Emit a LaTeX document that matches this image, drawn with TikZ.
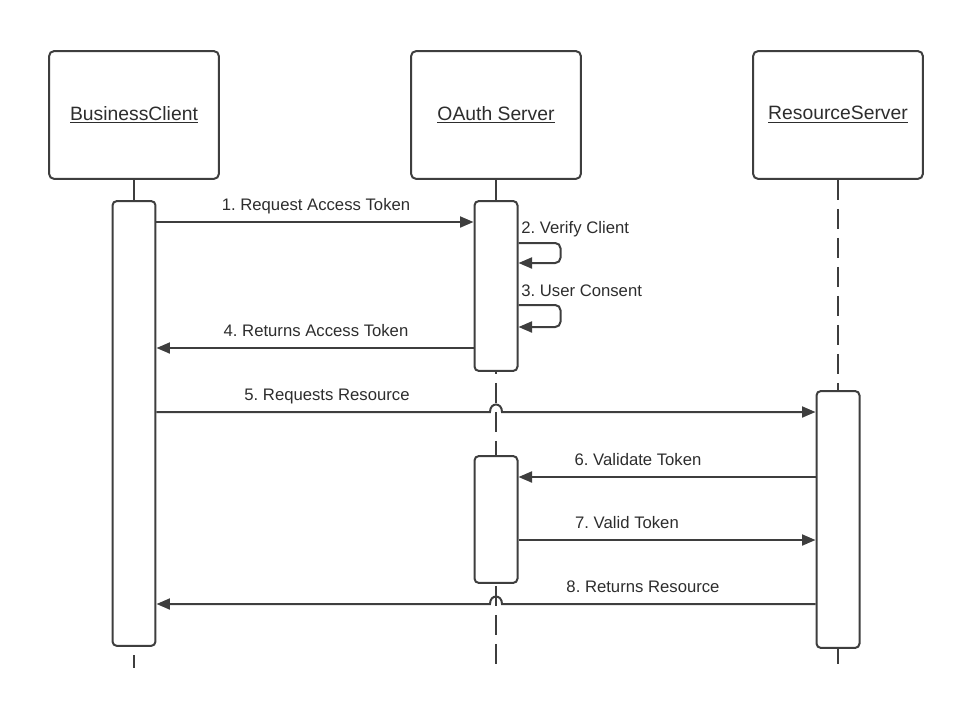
\documentclass[tikz,border=0pt]{standalone}
\usepackage{fontspec}
\setmainfont{Liberation Sans}
\usepackage{tikz}
\usetikzlibrary{arrows.meta, calc}
\definecolor{sqInk}{RGB}{62,62,62}
\definecolor{sqText}{RGB}{45,45,45}
\frenchspacing

\begin{document}
\begin{tikzpicture}[x=0.02cm,y=-0.02cm,
  head/.style={draw=sqInk,line width=0.04cm,rounded corners=3pt,fill=white,
               minimum width=3.4cm,minimum height=2.56cm,anchor=north,
               font=\fontsize{11}{13}\selectfont,text=sqText},
  bar/.style={draw=sqInk,line width=0.04cm,rounded corners=2.5pt,fill=white,
              minimum width=0.86cm,anchor=north,inner sep=0pt},
  life/.style={draw=sqInk,line width=0.04cm,dash pattern=on 0.4cm off 0.18cm},
  msg/.style={draw=sqInk,line width=0.04cm,
              -{Triangle[length=0.27cm,width=0.22cm]}},
  lbl/.style={font=\fontsize{9.5}{11}\selectfont,text=sqText,
              inner sep=0pt,anchor=base}]
\useasboundingbox (0,0) rectangle (956,707);

% ===== Heads =====
\node[head] (bc) at (134,50) {\underline{BusinessClient}};
\node[head] (oa) at (496,50) {\underline{OAuth Server}};
\node[head] (rs) at (838,50) {\underline{ResourceServer}};

% ===== Lifelines =====
\draw[life] (bc.south) -- (bc.south |- 0,640);
\draw[life] (bc.south |- 0,655) -- (bc.south |- 0,668);
\draw[life] (oa.south) -- (oa.south |- 0,668);
\draw[life] (rs.south) -- (rs.south |- 0,668);

% ===== Activation bars =====
\node[bar,minimum height=8.9cm] (bcA) at (134,200) {};
\node[bar,minimum height=3.4cm] (oaA) at (496,200) {};
\node[bar,minimum height=2.54cm] (oaB) at (496,455) {};
\node[bar,minimum height=5.14cm] (rsA) at (838,390) {};

% ===== Token request =====
\draw[msg] (bcA.east |- 0,222) -- (oaA.west |- 0,222);
\node[lbl] (m1) at (316,210) {1. Request Access Token};

\draw[msg,rounded corners=3pt] (oaA.east |- 0,243) -- ++(42,0) -- ++(0,20)
  -- (oaA.east |- 0,263);
\node[lbl,anchor=base west] (m2) at (521,233) {2. Verify Client};

\draw[msg,rounded corners=3pt] (oaA.east |- 0,305) -- ++(42,0) -- ++(0,22)
  -- (oaA.east |- 0,327);
\node[lbl,anchor=base west] (m3) at (521,296) {3. User Consent};

\draw[msg] (oaA.west |- 0,348) -- (bcA.east |- 0,348);
\node[lbl] (m4) at (316,336) {4. Returns Access Token};

% ===== Resource request =====
\coordinate (x5) at (oaA.south |- 0,412);
\draw[msg] (bcA.east |- 0,412) -- ($(x5)+(-6,0)$)
  .. controls +(0,-10) and +(0,-10) .. ($(x5)+(6,0)$) -- (rsA.west |- 0,412);
\node[lbl] (m5) at (327,400) {5. Requests Resource};

\draw[msg] (rsA.west |- 0,477) -- (oaB.east |- 0,477);
\node[lbl] (m6) at (638,465) {6. Validate Token};

\draw[msg] (oaB.east |- 0,540) -- (rsA.west |- 0,540);
\node[lbl] (m7) at (627,528) {7. Valid Token};

\coordinate (x8) at (oaB.south |- 0,604);
\draw[msg] (rsA.west |- 0,604) -- ($(x8)+(6,0)$)
  .. controls +(0,-10) and +(0,-10) .. ($(x8)+(-6,0)$) -- (bcA.east |- 0,604);
\node[lbl] (m8) at (643,592) {8. Returns Resource};
\end{tikzpicture}
\end{document}
